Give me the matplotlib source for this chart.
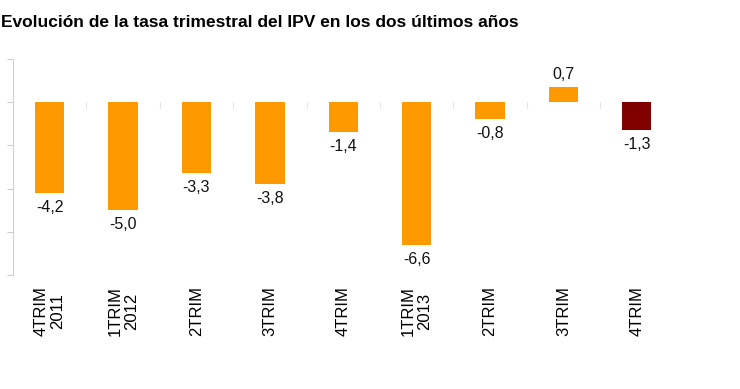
import matplotlib
matplotlib.use("Agg")
from matplotlib import pyplot as plt
import numpy as np

periods = ['4TRIM\n2011', '1TRIM\n2012', '2TRIM', '3TRIM', '4TRIM',
           '1TRIM\n2013', '2TRIM', '3TRIM', '4TRIM']
values = [-4.2, -5.0, -3.3, -3.8, -1.4, -6.6, -0.8, 0.7, -1.3]
colors = ['#ff9900'] * 8 + ['#800000']
yticks = [2, 0, -2, -4, -6, -8]
title = 'Evolución de la tasa trimestral del IPV en los dos últimos años'

plt.rcParams['font.family'] = ['Liberation Sans', 'DejaVu Sans']

fig = plt.figure(figsize=(7.4, 3.89), dpi=100)
ax = fig.add_axes([13/740, 1-275/389, (673.5-13)/740, (275-59)/389])

x = np.arange(len(values))
ax.bar(x, values, width=0.4, color=colors)

for xi, v in zip(x, values):
    label = ('%.1f' % v).replace('.', ',')
    if v < 0:
        ax.annotate(label, (xi, v), xytext=(0, -5), textcoords='offset points',
                    ha='center', va='top', fontsize=11.5, color='#111111')
    else:
        ax.annotate(label, (xi, v), xytext=(0, 4), textcoords='offset points',
                    ha='center', va='bottom', fontsize=11.5, color='#111111')

# little category separators on the zero line
for b in np.arange(0.5, len(values) - 1, 1):
    ax.plot([b, b], [0, -0.25], color='#e6e6e6', lw=0.8)

ax.set_xlim(-0.5, len(values) - 0.5)
ax.set_ylim(-8, 2)
ax.set_yticks(yticks)
ax.set_yticklabels([])
ax.tick_params(axis='y', length=4, color='#cccccc')
ax.set_xticks(x)
ax.set_xticklabels(periods, rotation=90, fontsize=12, linespacing=1.1)
ax.tick_params(axis='x', length=0, pad=8)
for lbl in ax.get_xticklabels():
    lbl.set_multialignment('center')

for s in ['top', 'right', 'bottom']:
    ax.spines[s].set_visible(False)
ax.spines['left'].set_color('#d0d0d0')

fig.text(0.001, 0.943, title, fontsize=12.5, fontweight='bold', va='center', ha='left')

fig.savefig('out.png', dpi=100)
